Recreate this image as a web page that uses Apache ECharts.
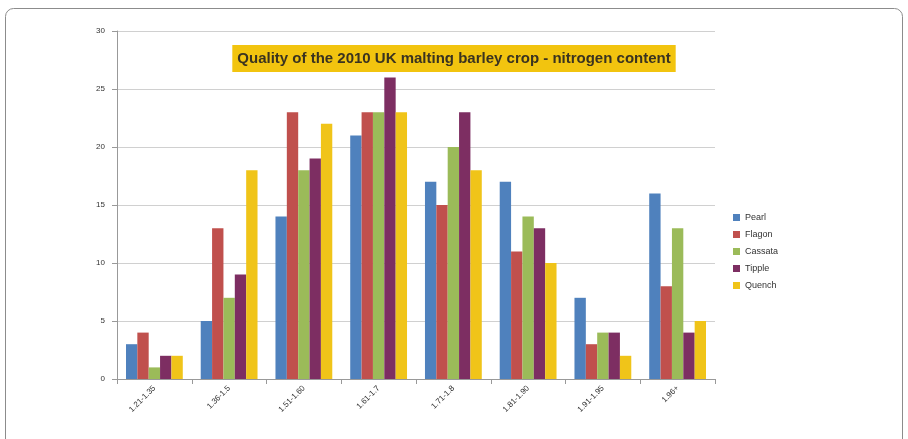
<!DOCTYPE html>
<html>
<head>
<meta charset="utf-8">
<script src="https://cdn.jsdelivr.net/npm/echarts@6/dist/echarts.min.js"></script>
<style>
  html, body { margin: 0; padding: 0; background: #fff; }
  #chart { width: 908px; height: 439px; }
</style>
</head>
<body>
<div id="chart"></div>
<script>
// nitrogen content bands
const categories = ['1.21-1.35', '1.36-1.5', '1.51-1.60', '1.61-1.7', '1.71-1.8', '1.81-1.90', '1.91-1.95', '1.96+']
const yTicks = [0, 5, 10, 15, 20, 25, 30]

const pearl = [3, 5, 14, 21, 17, 17, 7, 16]
const flagon = [4, 13, 23, 23, 15, 11, 3, 8]
const cassata = [1, 7, 18, 23, 20, 14, 4, 13]
const tipple = [2, 9, 19, 26, 23, 13, 4, 4]
const quench = [2, 18, 22, 23, 18, 10, 2, 5]

const seriesNames = ['Pearl', 'Flagon', 'Cassata', 'Tipple', 'Quench']
const seriesData = [pearl, flagon, cassata, tipple, quench]
const colors = ['#4f81bd', '#c0504d', '#9bbb59', '#7d2e62', '#f0c419']

let myChart = echarts.init(document.getElementById('chart'))
let option = {
  color: colors,
  animation: false,
  textStyle: { fontFamily: 'Liberation Sans' },
  graphic: [{
    type: 'rect',
    shape: { x: 5.5, y: 8.5, width: 897, height: 450, r: 8 },
    style: { fill: 'none', stroke: '#8c8c8c', lineWidth: 1 },
    silent: true
  }],
  title: {
    text: 'Quality of the 2010 UK malting barley crop - nitrogen content',
    left: 'center',
    top: 45,
    padding: [6, 5],
    backgroundColor: '#f2c40f',
    textStyle: { fontSize: 15, fontWeight: 'bold', color: '#3a3320' }
  },
  legend: {
    orient: 'vertical',
    left: 728,
    top: 208,
    itemWidth: 7,
    itemHeight: 7,
    itemGap: 8,
    icon: 'rect',
    textStyle: { fontSize: 9, color: '#333' },
    data: seriesNames
  },
  grid: {
    left: 117,
    right: 193,
    top: 31,
    bottom: 60
  },
  xAxis: {
    type: 'category',
    data: categories,
    axisLine: { lineStyle: { color: '#999' } },
    axisTick: { show: true, lineStyle: { color: '#999' } },
    axisLabel: { rotate: 45, fontSize: 8, color: '#333', margin: 8 }
  },
  yAxis: {
    type: 'value',
    min: yTicks[0],
    max: yTicks[yTicks.length - 1],
    interval: 5,
    axisLine: { show: true, lineStyle: { color: '#999' } },
    axisTick: { show: true, lineStyle: { color: '#999' } },
    axisLabel: { fontSize: 8, color: '#333', margin: 12 },
    splitLine: { lineStyle: { color: '#d0d0d0' } }
  },
  series: seriesNames.map(function (name, i) {
    return {
      name: name,
      type: 'bar',
      data: seriesData[i],
      barGap: '0%',
      barCategoryGap: '24%'
    }
  })
}
myChart.setOption(option)
</script>
</body>
</html>
